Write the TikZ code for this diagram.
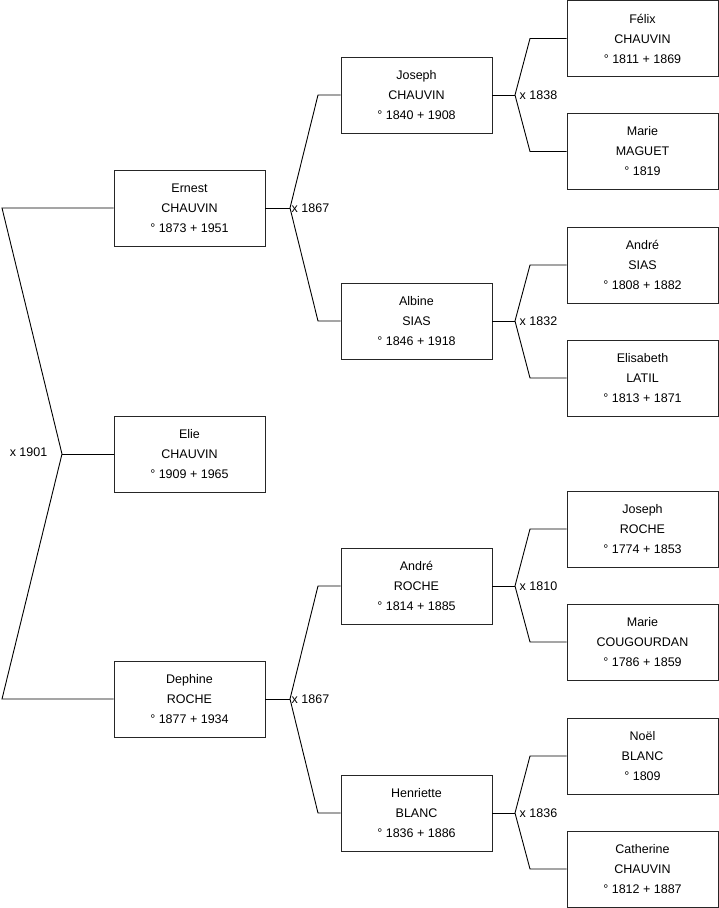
\documentclass[tikz,border=0pt]{standalone}
\usepackage{fontspec}
\setmainfont{Liberation Sans}
\begin{document}
\begin{tikzpicture}[x=1pt,y=-1pt,
  pbox/.style={draw=black!85,line width=0.9pt,minimum width=151pt,minimum height=76pt,align=center,inner sep=0pt,font=\fontsize{12.5}{20}\selectfont},
  conn/.style={draw=black,line width=0.9pt},
  mlab/.style={anchor=west,inner sep=1.5pt,font=\fontsize{12.5}{15}\selectfont}]
\useasboundingbox (0,0) rectangle (719,908);
% level 1
\node[pbox] (ernest) at (189.5,208) {Ernest\\CHAUVIN\\° 1873 + 1951};
\node[pbox] (elie) at (189.5,454) {Elie\\CHAUVIN\\° 1909 + 1965};
\node[pbox] (dephine) at (189.5,699) {Dephine\\ROCHE\\° 1877 + 1934};
% level 2
\node[pbox] (joseph) at (416.5,95) {Joseph\\CHAUVIN\\° 1840 + 1908};
\node[pbox] (albine) at (416.5,321) {Albine\\SIAS\\° 1846 + 1918};
\node[pbox] (andreR) at (416.5,586) {André\\ROCHE\\° 1814 + 1885};
\node[pbox] (henriette) at (416.5,813) {Henriette\\BLANC\\° 1836 + 1886};
% level 3
\node[pbox] (felix) at (642.5,38.5) {Félix\\CHAUVIN\\° 1811 + 1869};
\node[pbox] (marieM) at (642.5,151.5) {Marie\\MAGUET\\° 1819};
\node[pbox] (andreS) at (642.5,265) {André\\SIAS\\° 1808 + 1882};
\node[pbox] (elisabeth) at (642.5,378) {Elisabeth\\LATIL\\° 1813 + 1871};
\node[pbox] (josephR) at (642.5,529) {Joseph\\ROCHE\\° 1774 + 1853};
\node[pbox] (marieC) at (642.5,642) {Marie\\COUGOURDAN\\° 1786 + 1859};
\node[pbox] (noel) at (642.5,756) {Noël\\BLANC\\° 1809};
\node[pbox] (catherine) at (642.5,869) {Catherine\\CHAUVIN\\° 1812 + 1887};
% root marriage
\coordinate (j0) at (62,454);
\coordinate (j0t) at (2,208);
\coordinate (j0b) at (2,699);
\draw[conn] (elie.west) -- (j0);
\draw[conn] (ernest.west) -- (j0t) -- (j0) -- (j0b) -- (dephine.west);
\node[anchor=east,inner sep=1.5pt,font=\fontsize{12.5}{15}\selectfont] (m0) at (49,452) {x 1901};
% level 2 marriages
\coordinate (jE) at (290,208);
\coordinate (jEt) at (318,95);
\coordinate (jEb) at (318,321);
\draw[conn] (ernest.east) -- (jE);
\draw[conn] (joseph.west) -- (jEt) -- (jE) -- (jEb) -- (albine.west);
\node[mlab] (mE) at (jE) {x 1867};
\coordinate (jD) at (290,699);
\coordinate (jDt) at (318,586);
\coordinate (jDb) at (318,813);
\draw[conn] (dephine.east) -- (jD);
\draw[conn] (andreR.west) -- (jDt) -- (jD) -- (jDb) -- (henriette.west);
\node[mlab] (mD) at (jD) {x 1867};
% level 3 marriages
\coordinate (jJ) at (515,95);
\coordinate (jJt) at (530,38.5);
\coordinate (jJb) at (530,151.5);
\draw[conn] (joseph.east) -- (jJ);
\draw[conn] (felix.west) -- (jJt) -- (jJ) -- (jJb) -- (marieM.west);
\node[mlab,xshift=3pt] (mJ) at (jJ) {x 1838};
\coordinate (jA) at (515,321);
\coordinate (jAt) at (530,265);
\coordinate (jAb) at (530,378);
\draw[conn] (albine.east) -- (jA);
\draw[conn] (andreS.west) -- (jAt) -- (jA) -- (jAb) -- (elisabeth.west);
\node[mlab,xshift=3pt] (mA) at (jA) {x 1832};
\coordinate (jR) at (515,586);
\coordinate (jRt) at (530,529);
\coordinate (jRb) at (530,642);
\draw[conn] (andreR.east) -- (jR);
\draw[conn] (josephR.west) -- (jRt) -- (jR) -- (jRb) -- (marieC.west);
\node[mlab,xshift=3pt] (mR) at (jR) {x 1810};
\coordinate (jH) at (515,813);
\coordinate (jHt) at (530,756);
\coordinate (jHb) at (530,869);
\draw[conn] (henriette.east) -- (jH);
\draw[conn] (noel.west) -- (jHt) -- (jH) -- (jHb) -- (catherine.west);
\node[mlab,xshift=3pt] (mH) at (jH) {x 1836};
\end{tikzpicture}
\end{document}
